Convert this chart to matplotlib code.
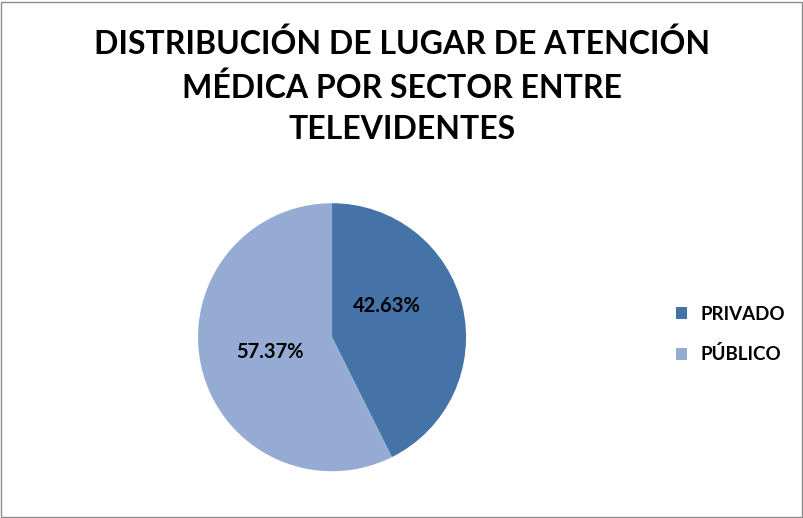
import matplotlib
matplotlib.use("Agg")
import matplotlib.pyplot as plt
from matplotlib.patches import Rectangle

# datos
sectores = ["PRIVADO", "PÚBLICO"]
porcentajes = [42.63, 57.37]
colores = ["#4572A7", "#95ABD3"]
titulo = "DISTRIBUCIÓN DE LUGAR DE ATENCIÓN\nMÉDICA POR SECTOR ENTRE\nTELEVIDENTES"

plt.rcParams['font.family'] = ['Lato', 'DejaVu Sans']

fig = plt.figure(figsize=(8.04, 5.18), dpi=100)
fig.patches.append(Rectangle((0.001, 0.001), 0.997, 0.996, transform=fig.transFigure,
                             fill=False, edgecolor="#8c8c8c", linewidth=1))

fig.text(0.5, 0.945, titulo, ha='center', va='top', fontsize=23, fontweight='bold',
         linespacing=1.52)

ax = fig.add_axes([0.413 - 0.1667, 0.349 - 0.2587, 0.3334, 0.5174])
wedges, texts, autotexts = ax.pie(porcentajes, colors=colores, startangle=90, counterclock=False,
                                  autopct='%.2f%%', pctdistance=0.48,
                                  textprops=dict(fontsize=14.5, fontweight='bold', color='black'))
# excel coloca la etiqueta del sector privado algo mas arriba
x, y = autotexts[0].get_position()
autotexts[0].set_position((x - 0.06, y + 0.12))
ax.set_xlim(-1, 1)
ax.set_ylim(-1, 1)
ax.set_aspect('equal')

leg = fig.legend(wedges, sectores, loc='center left', bbox_to_anchor=(0.82, 0.354),
                 frameon=False, fontsize=13.5, handlelength=0.6, handleheight=0.6,
                 labelspacing=1.2, handletextpad=0.7)
for t in leg.get_texts():
    t.set_fontweight('bold')

fig.savefig("out.png", dpi=100)
